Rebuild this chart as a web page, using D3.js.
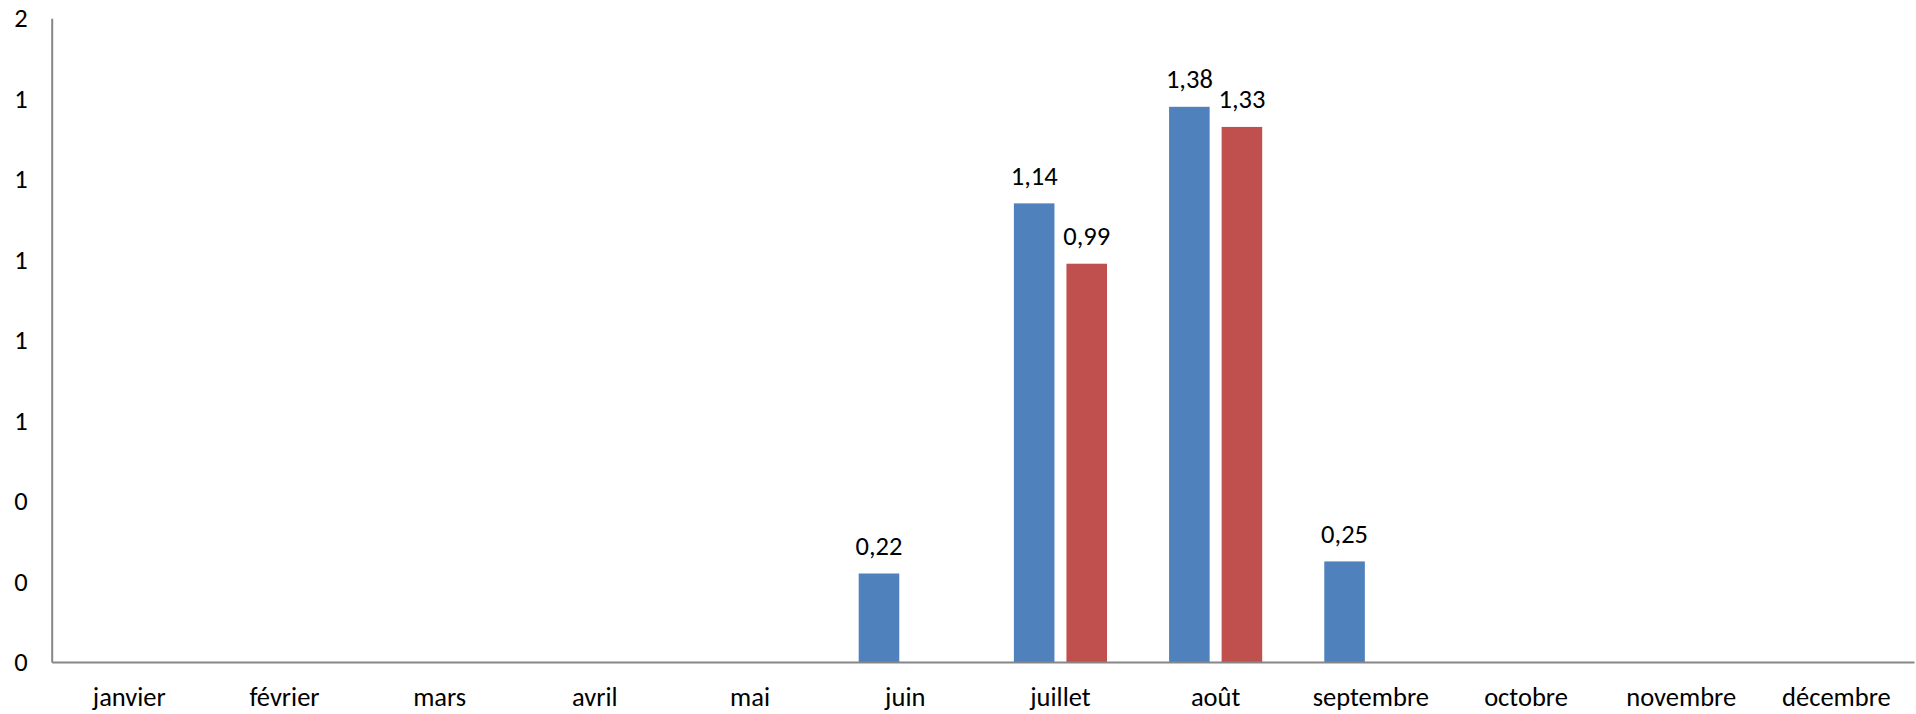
<!DOCTYPE html>
<html>
<head>
<meta charset="utf-8">
<script src="https://cdn.jsdelivr.net/npm/d3@7"></script>
<style>
  html, body { margin: 0; padding: 0; background: #fff; }
  svg { display: block; }
  text { font-family: Carlito, Lato, "Liberation Sans", sans-serif; fill: #000; }
</style>
</head>
<body>
<svg id="chart" width="1916" height="714"></svg>
<script>
const months = ["janvier","février","mars","avril","mai","juin","juillet","août","septembre","octobre","novembre","décembre"];
const seriesA = [null,null,null,null,null,0.22,1.14,1.38,0.25,null,null,null];
const seriesB = [null,null,null,null,null,null,0.99,1.33,null,null,null,null];
const seriesColors = ["#4F81BD","#C0504D"];
const yTickValues = [0,0.2,0.4,0.6,0.8,1.0,1.2,1.4,1.6];
const yTickLabels = ["0","0","0","1","1","1","1","1","2"];

const svg = d3.select("#chart");
const margin = {left: 51.7, right: 2, top: 18.3, bottom: 52};
const W = 1916, H = 714;
const plotW = W - margin.left - margin.right;
const plotH = H - margin.top - margin.bottom;
const g = svg.append("g").attr("transform", `translate(${margin.left},${margin.top})`);

const x0 = d3.scaleBand().domain(months).range([0, plotW]).paddingInner(0).paddingOuter(0);
const step = x0.bandwidth();
const outer = step * 0.2;
const x1 = d3.scaleBand().domain([0,1]).range([outer, step - outer]).paddingInner(0.228).paddingOuter(0);
const y = d3.scaleLinear().domain([0, 1.6]).range([plotH, 0]);

const series = [seriesA, seriesB];
const fmt = v => v.toFixed(2).replace(".", ",");
const fs = 26.5;

series.forEach((vals, si) => {
  const data = months.map((m, i) => ({m, v: vals[i]})).filter(d => d.v != null);
  g.selectAll(null).data(data).enter().append("rect")
    .attr("x", d => x0(d.m) + x1(si))
    .attr("width", x1.bandwidth())
    .attr("y", d => y(d.v))
    .attr("height", d => y(0) - y(d.v))
    .attr("fill", seriesColors[si]);
  g.selectAll(null).data(data).enter().append("text")
    .attr("x", d => x0(d.m) + x1(si) + x1.bandwidth()/2)
    .attr("y", d => y(d.v) - 18.5)
    .attr("text-anchor", "middle")
    .attr("font-size", fs)
    .text(d => fmt(d.v));
});

// y axis
const yAxis = d3.axisLeft(y).tickValues(yTickValues).tickSize(0).tickPadding(24)
  .tickFormat((d, i) => yTickLabels[i]);
const ya = g.append("g").call(yAxis);
ya.select(".domain").attr("stroke", "#868686").attr("stroke-width", 2);
ya.selectAll("text").attr("font-size", fs).attr("font-family", null).attr("fill", "#000");

// x axis
const xAxis = d3.axisBottom(x0).tickSize(0).tickPadding(25);
const xa = g.append("g").attr("transform", `translate(0,${plotH})`).call(xAxis);
xa.select(".domain").attr("stroke", "#868686").attr("stroke-width", 2);
xa.selectAll("text").attr("font-size", fs).attr("font-family", null).attr("fill", "#000");
</script>
</body>
</html>
